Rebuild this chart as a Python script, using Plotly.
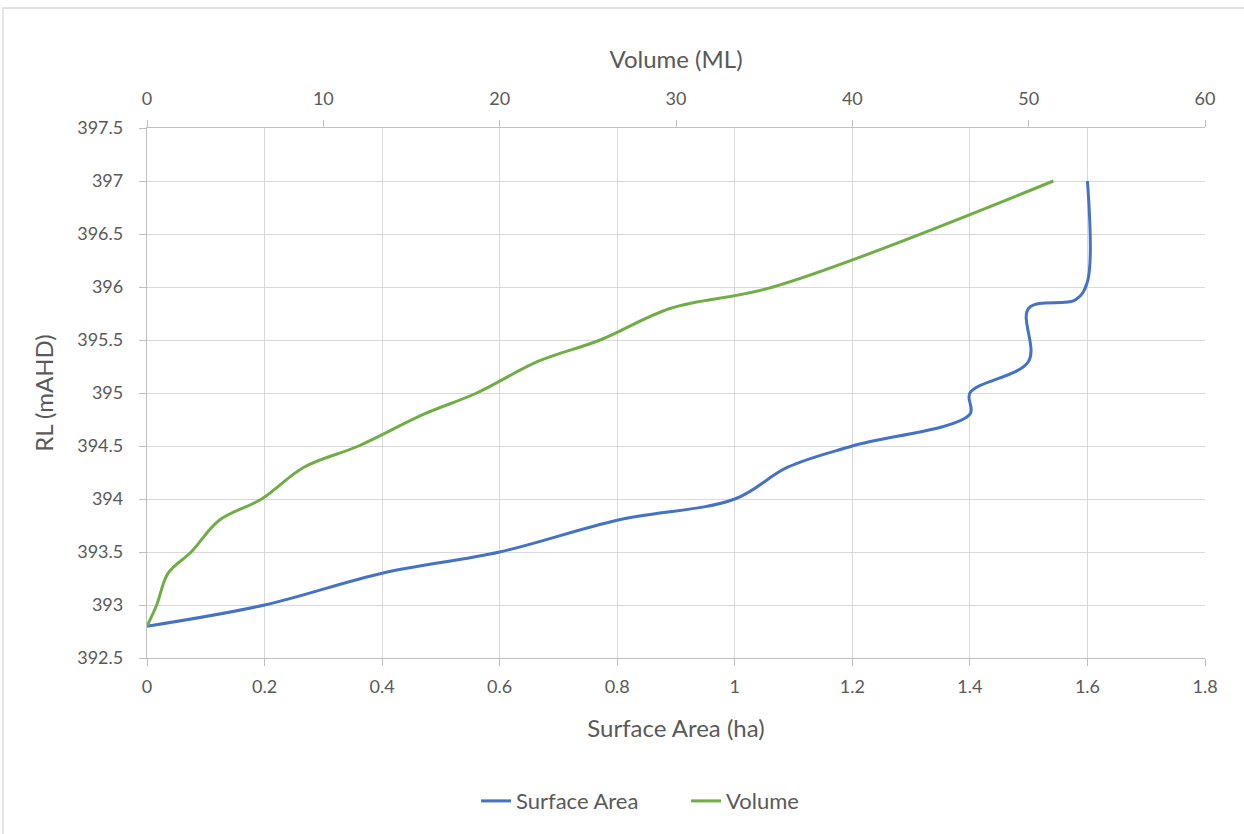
import plotly.graph_objects as go

# ---- data ----
rl_area = [392.8, 393.0, 393.3, 393.5, 393.8, 394.0, 394.3, 394.5, 394.8, 395.0, 395.3, 395.8, 395.88, 396.05, 397.0]
surface_area = [0.0, 0.2, 0.4, 0.6, 0.8, 1.0, 1.09, 1.2, 1.4, 1.4, 1.5, 1.5, 1.58, 1.6, 1.6]

rl_volume = [392.8, 393.0, 393.3, 393.5, 393.8, 394.0, 394.3, 394.5, 394.8, 395.0, 395.3, 395.5, 395.8, 396.0, 397.0]
volume = [0.0, 0.55, 1.2, 2.5, 4.1, 6.5, 8.9, 12.0, 15.7, 18.7, 22.2, 25.7, 29.7, 35.5, 51.4]

FONT = "Lato, Calibri, 'Open Sans', sans-serif"
TXT = "#595959"
GRID = "#d9d9d9"
AXL = "#bfbfbf"

fig = go.Figure()
fig.add_trace(go.Scatter(
    x=surface_area, y=rl_area, mode="lines", name="Surface Area",
    line=dict(color="#4472C4", width=3, shape="spline", smoothing=1.0),
    xaxis="x", yaxis="y"))
fig.add_trace(go.Scatter(
    x=volume, y=rl_volume, mode="lines", name="Volume",
    line=dict(color="#70AD47", width=3, shape="spline", smoothing=1.0),
    xaxis="x2", yaxis="y"))

axis_common = dict(showline=True, linecolor=AXL, linewidth=1.3, ticks="outside",
                   ticklen=7, tickcolor=AXL, tickfont=dict(family=FONT, size=18, color=TXT),
                   zeroline=False)
TITLE_FONT = dict(family=FONT, size=24, color=TXT)

fig.update_layout(
    width=1244, height=834,
    margin=dict(l=147, r=39, t=128, b=176),
    paper_bgcolor="white", plot_bgcolor="white",
    font=dict(family=FONT, color=TXT),
    xaxis=dict(range=[0, 1.8], dtick=0.2, tick0=0, showgrid=True, gridcolor=GRID, gridwidth=1.3,
               ticklabelstandoff=5,
               title=dict(text="Surface Area (ha)", font=TITLE_FONT, standoff=24),
               **axis_common),
    xaxis2=dict(range=[0, 60], dtick=10, tick0=0, overlaying="x", side="top", showgrid=False,
                anchor="y", ticklabelstandoff=8,
                title=dict(text="Volume (ML)", font=TITLE_FONT, standoff=11),
                **axis_common),
    yaxis=dict(range=[392.5, 397.5], dtick=0.5, tick0=392.5, showgrid=True, gridcolor=GRID, gridwidth=1.3,
               ticklabelstandoff=12,
               title=dict(text="RL (mAHD)", font=TITLE_FONT, standoff=16),
               **axis_common),
    legend=dict(orientation="h", x=0.5095, xanchor="center", y=-0.27, yanchor="middle",
                font=dict(family=FONT, size=22, color=TXT), entrywidth=165),
    showlegend=True,
    shapes=[dict(type="rect", xref="paper", yref="paper",
                 x0=(3 - 147) / 1058, x1=1.06, y0=-0.36, y1=(658 - 8) / 530,
                 line=dict(color=GRID, width=1.3), fillcolor="rgba(0,0,0,0)", layer="below")],
)

fig.write_html("out.html", config={"displayModeBar": False},
               post_script="document.body.style.margin='0';")
